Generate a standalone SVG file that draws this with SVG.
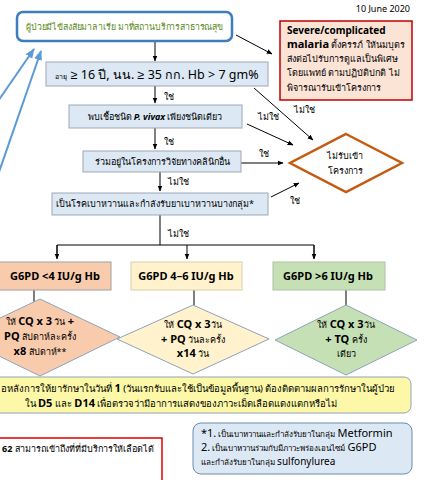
<svg xmlns="http://www.w3.org/2000/svg" width="426" height="480" viewBox="0 0 426 480">
<defs>
<style>
text{font-family:"Noto Sans","Liberation Sans",sans-serif;fill:#000}
.t9{font-size:9px}
.b{font-weight:bold}
.box{fill:#dce8f4;stroke:#a0a8b4;stroke-width:1}
.ln{stroke:#000;stroke-width:1;fill:none}
.lbl{font-size:9px}
.g6{font-size:11px;font-weight:bold}
.dm{stroke:#8ea4bc;stroke-width:1}
</style>
<marker id="ah" viewBox="0 0 10 10" refX="9" refY="5" markerWidth="6" markerHeight="6" orient="auto"><path d="M0,1 L10,5 L0,9 z" fill="#000"/></marker>
<marker id="bh" viewBox="0 0 10 10" refX="9" refY="5" markerWidth="5" markerHeight="5" orient="auto"><path d="M0,1 L10,5 L0,9 z" fill="#5b9bd5"/></marker>
</defs>
<rect width="426" height="480" fill="#fff"/>
<text x="410" y="12" text-anchor="end" style="font-size:9px">10 June 2020</text>

<g id="connectors">
<line class="ln" x1="155" y1="42" x2="155" y2="61" marker-end="url(#ah)"/>
<line class="ln" x1="236" y1="35" x2="272" y2="54" marker-end="url(#ah)"/>
<line class="ln" x1="155" y1="86" x2="155" y2="103" marker-end="url(#ah)"/>
<line class="ln" x1="254" y1="88" x2="313" y2="140" marker-end="url(#ah)"/>
<line class="ln" x1="247" y1="124" x2="293" y2="145" marker-end="url(#ah)"/>
<line class="ln" x1="155" y1="128" x2="155" y2="149" marker-end="url(#ah)"/>
<line class="ln" x1="240" y1="163" x2="283" y2="163" marker-end="url(#ah)"/>
<line class="ln" x1="160" y1="172" x2="160" y2="191" marker-end="url(#ah)"/>
<line class="ln" x1="271" y1="197" x2="299" y2="183" marker-end="url(#ah)"/>
<line class="ln" x1="160" y1="215" x2="160" y2="245" stroke="#000"/>
<polyline class="ln" points="57,258 57,245 314,245 314,258"/>
<line class="ln" x1="57" y1="245" x2="57" y2="259" marker-end="url(#ah)"/>
<line class="ln" x1="187" y1="245" x2="187" y2="259" marker-end="url(#ah)"/>
<line class="ln" x1="314" y1="245" x2="314" y2="259" marker-end="url(#ah)"/>
<line class="ln" x1="34" y1="290" x2="34" y2="308" marker-end="url(#ah)"/>
<line class="ln" x1="194" y1="290" x2="194" y2="315" marker-end="url(#ah)"/>
<line class="ln" x1="346" y1="290" x2="346" y2="314" marker-end="url(#ah)"/>
<line x1="-4" y1="104" x2="34" y2="49" stroke="#5b9bd5" stroke-width="2" marker-end="url(#bh)"/>
<line x1="-1" y1="172" x2="41" y2="51" stroke="#5b9bd5" stroke-width="2" marker-end="url(#bh)"/>
<text class="lbl" x="164" y="100">ใช่</text>
<text class="lbl" x="294" y="113">ไม่ใช่</text>
<text class="lbl" x="258" y="120">ไม่ใช่</text>
<text class="lbl" x="164" y="145">ใช่</text>
<text class="lbl" x="259" y="157">ใช่</text>
<text class="lbl" x="168" y="185">ไม่ใช่</text>
<text class="lbl" x="290" y="204">ใช่</text>
<text class="lbl" x="168" y="237">ไม่ใช่</text>
</g>

<g id="start">
<rect x="17" y="12" width="215" height="29" rx="6" fill="#fff" stroke="#3c7dbf" stroke-width="2.5"/>
<text x="26" y="30" textLength="197" lengthAdjust="spacingAndGlyphs" style="font-size:9px;fill:#5a8a1e">ผู้ป่วยมีไข้สงสัยมาลาเรีย มาที่สถานบริการสาธารณสุข</text>
</g>

<g id="severe">
<rect x="280" y="21" width="132" height="79" fill="#fbe3d6" stroke="#c00000" stroke-width="1.5"/>
<text x="287" y="34" class="b" style="font-size:10px">Severe/complicated</text>
<text x="287" y="48" style="font-size:9px"><tspan class="b" style="font-size:11px">malaria</tspan> ตั้งครรภ์ ให้นมบุตร</text>
<text x="287" y="62" class="t9">ส่งต่อไปรับการดูแลเป็นพิเศษ</text>
<text x="287" y="76" class="t9">โดยแพทย์ ตามปฏิบัติปกติ ไม่</text>
<text x="287" y="91" class="t9">พิจารณารับเข้าโครงการ</text>
</g>

<g id="age">
<rect class="box" x="46" y="62" width="222" height="24"/>
<text x="157" y="79" text-anchor="middle" style="font-size:12.5px"><tspan style="font-size:7px">อายุ</tspan> ≥ 16 ปี, นน. ≥ 35 กก. Hb &gt; 7 gm%</text>
</g>

<g id="vivax">
<rect class="box" x="69" y="105" width="173" height="23"/>
<text x="155" y="120" text-anchor="middle" class="t9">พบเชื้อชนิด <tspan class="b" font-style="italic">P. vivax</tspan> เพียงชนิดเดียว</text>
</g>

<g id="research">
<rect class="box" x="83" y="151" width="158" height="21"/>
<text x="162" y="165" text-anchor="middle" class="t9">ร่วมอยู่ในโครงการวิจัยทางคลินิกอื่น</text>
</g>

<g id="diabetes">
<rect class="box" x="52" y="193" width="216" height="22"/>
<text x="155" y="207" text-anchor="middle" class="t9">เป็นโรคเบาหวานและกำลังรับยาเบาหวานบางกลุ่ม*</text>
</g>

<g id="reject">
<polygon points="346,134 402,163 346,192 290,163" fill="#fff" stroke="#c55a11" stroke-width="2.5"/>
<text x="345" y="159" text-anchor="middle" class="t9">ไม่รับเข้า</text>
<text x="345" y="174" text-anchor="middle" class="t9">โครงการ</text>
</g>

<g id="g6pd-low">
<rect x="-1" y="262" width="112" height="28" fill="#f8cbad" stroke="#a0a0a0"/>
<text x="55" y="280" text-anchor="middle" class="g6">G6PD &lt;4 IU/g Hb</text>
</g>
<g id="g6pd-mid">
<rect x="131" y="262" width="111" height="28" fill="#fff2cc" stroke="#d8d0b0"/>
<text x="186" y="280" text-anchor="middle" class="g6">G6PD 4–6 IU/g Hb</text>
</g>
<g id="g6pd-high">
<rect x="273" y="262" width="112" height="28" fill="#c5e0b4" stroke="#b0c0a8"/>
<text x="328" y="280" text-anchor="middle" class="g6">G6PD &gt;6 IU/g Hb</text>
</g>

<g id="tx-low">
<polygon class="dm" points="40,299 120,337 40,376 -40,337" fill="#f8cbad"/>
<text x="40" y="325" text-anchor="middle" style="font-size:9px">ให้ <tspan class="b" style="font-size:11px">CQ x 3</tspan> วัน <tspan class="b" style="font-size:11px">+</tspan></text>
<text x="40" y="340" text-anchor="middle" style="font-size:9px"><tspan class="b" style="font-size:11px">PQ</tspan> สัปดาห์ละครั้ง</text>
<text x="40" y="355" text-anchor="middle" style="font-size:9px"><tspan class="b" style="font-size:11px">x8</tspan> สัปดาห์**</text>
</g>
<g id="tx-mid">
<polygon class="dm" points="193,305 269,339 193,374 117,339" fill="#fff2cc"/>
<text x="193" y="328" text-anchor="middle" style="font-size:9px">ให้ <tspan class="b" style="font-size:11px">CQ x 3</tspan>วัน</text>
<text x="193" y="343" text-anchor="middle" style="font-size:9px"><tspan class="b" style="font-size:11px">+ PQ</tspan> วันละครั้ง</text>
<text x="193" y="357" text-anchor="middle" style="font-size:9px"><tspan class="b" style="font-size:11px">x14</tspan> วัน</text>
</g>
<g id="tx-high">
<polygon class="dm" points="346,305 417,340 346,375 275,340" fill="#c5e0b4"/>
<text x="346" y="328" text-anchor="middle" style="font-size:9px">ให้ <tspan class="b" style="font-size:11px">CQ x 3</tspan>วัน</text>
<text x="346" y="343" text-anchor="middle" style="font-size:9px"><tspan class="b" style="font-size:11px">+ TQ</tspan> ครั้ง</text>
<text x="346" y="357" text-anchor="middle" style="font-size:9px">เดียว</text>
</g>

<g id="followup">
<rect x="-20" y="377" width="431" height="36" rx="7" fill="#fcf8a8" stroke="#8ea4bc"/>
<text x="1" y="392" style="font-size:9.5px">อหลังการให้ยารักษาในวันที่ <tspan class="b" style="font-size:11px">1</tspan> (วันแรกรับและใช้เป็นข้อมูลพื้นฐาน) ต้องติดตามผลการรักษาในผู้ป่วย</text>
<text x="181" y="407" text-anchor="middle" style="font-size:9.5px">ใน <tspan class="b" style="font-size:11px">D5</tspan> และ <tspan class="b" style="font-size:11px">D14</tspan> เพื่อตรวจว่ามีอาการแสดงของภาวะเม็ดเลือดแดงแตกหรือไม่</text>
</g>

<g id="blood">
<rect x="-10" y="438" width="172" height="48" fill="#fff" stroke="#e00000" stroke-width="1.5"/>
<text x="2" y="452" style="font-size:9px"><tspan class="b">62</tspan> สามารถเข้าถึงที่ที่มีบริการให้เลือดได้</text>
</g>

<g id="footnote">
<rect x="193" y="423" width="219" height="51" rx="8" fill="#dce8f4" stroke="#6a8cb0"/>
<text x="201" y="437" style="font-size:8px"><tspan style="font-size:11px">*1.</tspan> เป็นเบาหวานและกำลังรับยาในกลุ่ม <tspan style="font-size:11px">Metformin</tspan></text>
<text x="201" y="451" style="font-size:8px"><tspan style="font-size:11px">2.</tspan> เป็นเบาหวานร่วมกับมีภาวะพร่องเอนไซม์ <tspan style="font-size:11px">G6PD</tspan></text>
<text x="201" y="465" style="font-size:8px">และกำลังรับยาในกลุ่ม <tspan style="font-size:10px">sulfonylurea</tspan></text>
</g>
</svg>
